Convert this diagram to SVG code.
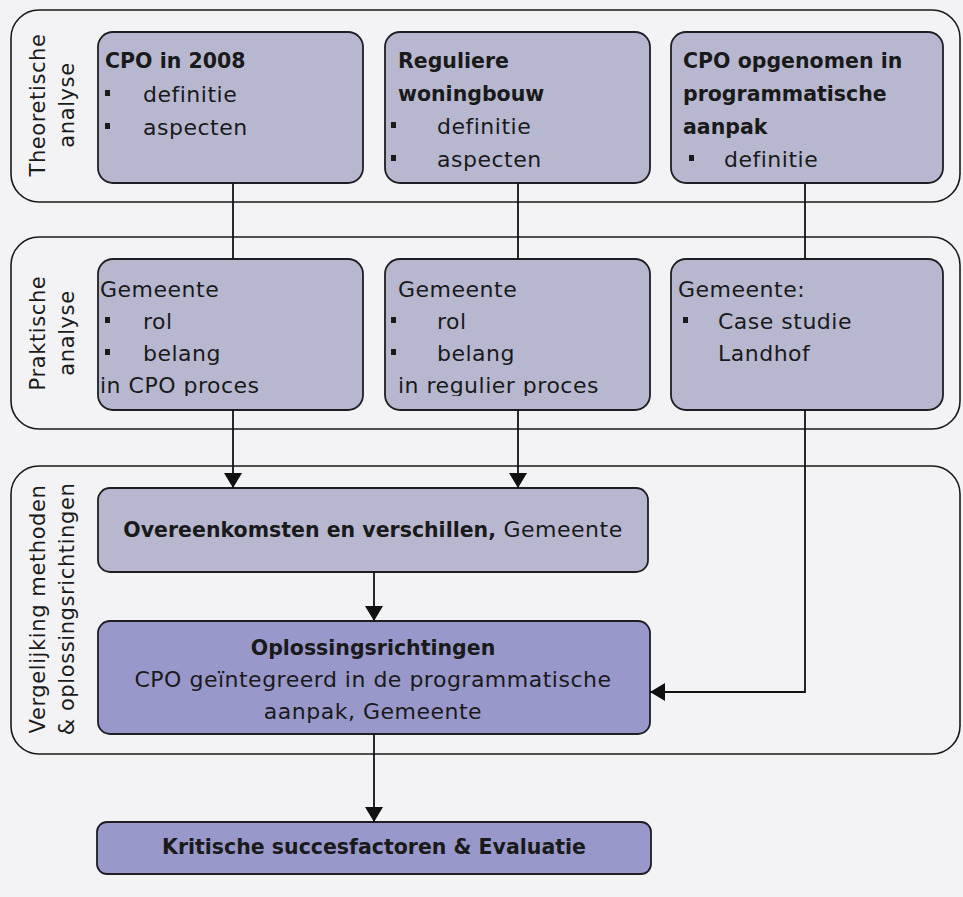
<svg xmlns="http://www.w3.org/2000/svg" width="963" height="897" viewBox="0 0 963 897">
  <defs>
    <style>
      .lane { fill: none; stroke: #1a1a1a; stroke-width: 1.6; }
      .box { fill: #b7b8d0; stroke: #1e1e22; stroke-width: 1.8; }
      .box-dark { fill: #9898cb; stroke: #1e1e22; stroke-width: 1.8; }
      .t { font-family: "DejaVu Sans", Verdana, sans-serif; font-size: 22px; fill: #1a1a1a; letter-spacing: 0.5px; }
      .b { font-family: "DejaVu Sans", Verdana, sans-serif; font-size: 20.5px; font-weight: bold; fill: #1a1a1a; }
      .lbl { font-family: "DejaVu Sans", Verdana, sans-serif; font-size: 21px; fill: #1a1a1a; text-anchor: middle; letter-spacing: 0.6px; }
      .bullet { fill: #1a1a1a; }
      .conn { fill: none; stroke: #111; stroke-width: 1.8; }
      .arrow { marker-end: url(#head); }
    </style>
    <marker id="head" markerUnits="userSpaceOnUse" markerWidth="16" markerHeight="18" refX="15" refY="9" orient="auto">
      <path d="M0,0 L15,9 L0,18 Z" fill="#111"/>
    </marker>
    <clipPath id="clipB1"><rect x="98" y="259" width="265" height="137"/></clipPath>
    <clipPath id="clipB2"><rect x="385" y="259" width="265" height="137"/></clipPath>
  </defs>

  <rect x="0" y="0" width="963" height="897" fill="#f3f3f5"/>

  <!-- swimlanes -->
  <g id="lane-theoretisch">
    <rect class="lane" x="11" y="10" width="949" height="192" rx="28" ry="28"/>
    <text class="lbl" transform="translate(45,105) rotate(-90)">Theoretische</text>
    <text class="lbl" transform="translate(74,105) rotate(-90)">analyse</text>
  </g>
  <g id="lane-praktisch">
    <rect class="lane" x="11" y="237" width="949" height="192" rx="28" ry="28"/>
    <text class="lbl" transform="translate(45,333) rotate(-90)">Praktische</text>
    <text class="lbl" transform="translate(74,333) rotate(-90)">analyse</text>
  </g>
  <g id="lane-vergelijking">
    <rect class="lane" x="11" y="466" width="949" height="288" rx="28" ry="28"/>
    <text class="lbl" transform="translate(45,609) rotate(-90)">Vergelijking methoden</text>
    <text class="lbl" transform="translate(74,609) rotate(-90)">&amp; oplossingsrichtingen</text>
  </g>

  <!-- row 1: theoretical analysis -->
  <g id="cpo-2008">
    <rect class="box" x="98" y="32" width="265" height="151" rx="15" ry="15"/>
    <text class="b" x="105" y="68">CPO in 2008</text>
    <rect class="bullet" x="105" y="90" width="5" height="6"/>
    <text class="t" x="143" y="102">definitie</text>
    <rect class="bullet" x="105" y="123" width="5" height="6"/>
    <text class="t" x="143" y="135">aspecten</text>
  </g>
  <g id="reguliere-woningbouw">
    <rect class="box" x="385" y="32" width="265" height="151" rx="15" ry="15"/>
    <text class="b" x="398" y="68">Reguliere</text>
    <text class="b" x="398" y="101">woningbouw</text>
    <rect class="bullet" x="391" y="122" width="5" height="6"/>
    <text class="t" x="437" y="134">definitie</text>
    <rect class="bullet" x="391" y="155" width="5" height="6"/>
    <text class="t" x="437" y="167">aspecten</text>
  </g>
  <g id="cpo-programmatisch">
    <rect class="box" x="671" y="32" width="272" height="151" rx="15" ry="15"/>
    <text class="b" x="683" y="68">CPO opgenomen in</text>
    <text class="b" x="683" y="101">programmatische</text>
    <text class="b" x="683" y="134">aanpak</text>
    <rect class="bullet" x="689" y="155" width="5" height="6"/>
    <text class="t" x="724" y="167">definitie</text>
  </g>

  <!-- row 2: practical analysis -->
  <g id="gemeente-cpo">
    <rect class="box" x="98" y="259" width="265" height="151" rx="15" ry="15"/>
    <g clip-path="url(#clipB1)">
      <text class="t" x="100" y="297">Gemeente</text>
      <rect class="bullet" x="105" y="317" width="5" height="6"/>
      <text class="t" x="143" y="329">rol</text>
      <rect class="bullet" x="105" y="349" width="5" height="6"/>
      <text class="t" x="143" y="361">belang</text>
      <text class="t" x="100" y="393">in CPO proces</text>
    </g>
  </g>
  <g id="gemeente-regulier">
    <rect class="box" x="385" y="259" width="265" height="151" rx="15" ry="15"/>
    <g clip-path="url(#clipB2)">
      <text class="t" x="398" y="297">Gemeente</text>
      <rect class="bullet" x="391" y="317" width="5" height="6"/>
      <text class="t" x="437" y="329">rol</text>
      <rect class="bullet" x="391" y="349" width="5" height="6"/>
      <text class="t" x="437" y="361">belang</text>
      <text class="t" x="398" y="393">in regulier proces</text>
    </g>
  </g>
  <g id="gemeente-landhof">
    <rect class="box" x="671" y="259" width="272" height="151" rx="15" ry="15"/>
    <text class="t" x="678" y="297">Gemeente:</text>
    <rect class="bullet" x="683" y="317" width="5" height="6"/>
    <text class="t" x="718" y="329">Case studie</text>
    <text class="t" x="718" y="361">Landhof</text>
  </g>

  <!-- row 3: comparison and solutions -->
  <g id="overeenkomsten">
    <rect class="box" x="98" y="488" width="550" height="84" rx="12" ry="12"/>
    <text x="373" y="537" text-anchor="middle"><tspan class="b">Overeenkomsten en verschillen,</tspan><tspan class="t"> Gemeente</tspan></text>
  </g>
  <g id="oplossingsrichtingen">
    <rect class="box-dark" x="98" y="621" width="552" height="113" rx="12" ry="12"/>
    <text class="b" x="373" y="655" text-anchor="middle">Oplossingsrichtingen</text>
    <text class="t" x="373" y="687" text-anchor="middle">CPO geïntegreerd in de programmatische</text>
    <text class="t" x="373" y="719" text-anchor="middle">aanpak, Gemeente</text>
  </g>

  <!-- outcome -->
  <g id="kritische-succesfactoren">
    <rect class="box-dark" x="97" y="822" width="554" height="52" rx="10" ry="10"/>
    <text class="b" x="374" y="854" text-anchor="middle">Kritische succesfactoren &amp; Evaluatie</text>
  </g>

  <!-- connectors -->
  <g id="connectors">
    <path class="conn" d="M233,183 V259"/>
    <path class="conn arrow" d="M233,410 V488"/>
    <path class="conn" d="M518,183 V259"/>
    <path class="conn arrow" d="M518,410 V488"/>
    <path class="conn" d="M805,183 V259"/>
    <path class="conn arrow" d="M805,410 V692 H650"/>
    <path class="conn arrow" d="M374,572 V621"/>
    <path class="conn arrow" d="M374,734 V822"/>
  </g>
</svg>
